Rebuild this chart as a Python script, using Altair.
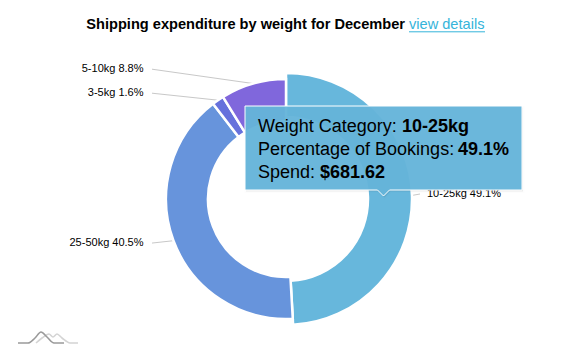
import math
import altair as alt
import pandas as pd

# ---------------- data ----------------
categories = ["10-25kg", "25-50kg", "3-5kg", "5-10kg"]
percentages = [49.1, 40.5, 1.6, 8.8]
colors = ["#67b7dc", "#6794dc", "#6771dc", "#8067dc"]
hover_category = "10-25kg"
hover_spend = 681.62

title_text = "Shipping expenditure by weight for December"
link_text = "view details"

# ---------------- layout (view pixels) ----------------
CX, CY = 278, 191
R_OUT, R_IN = 120, 78
R_OUT_H, R_IN_H = 126, 82
LABEL_R = 130.5
LABEL_GAP = 24
LX_L, LX_R = 135.5, 419
LINE_END_L, LINE_END_R = 144, 412
FONT = "Liberation Sans"

df = pd.DataFrame({"cat": categories, "pct": percentages, "idx": list(range(len(categories)))})

base = (
    alt.Chart(df)
    .transform_window(cum="sum(pct)", sort=[alt.SortField("idx")], frame=[None, 0])
    .transform_joinaggregate(total="sum(pct)")
    .transform_calculate(
        a0="(datum.cum - datum.pct) / datum.total * 2 * PI",
        a1="datum.cum / datum.total * 2 * PI",
        mid="(datum.cum - datum.pct / 2) / datum.total * 2 * PI",
        hov=f"datum.cat == '{hover_category}'",
    )
    .transform_calculate(
        r_out=f"datum.hov ? {R_OUT_H} : {R_OUT}",
        r_in=f"datum.hov ? {R_IN_H} : {R_IN}",
        side="sin(datum.mid) >= 0 ? 'R' : 'L'",
        ny=f"{CY} - {LABEL_R} * cos(datum.mid) - 1.3",
        label="datum.cat + ' ' + format(datum.pct, '.1f') + '%'",
    )
)

arcs = base.mark_arc(stroke="white", strokeWidth=2.5).encode(
    theta=alt.Theta("a0:Q", scale=None, stack=None),
    theta2=alt.Theta2("a1:Q"),
    radius=alt.Radius("r_out:Q", scale=None),
    radius2=alt.Radius2("r_in:Q"),
    x=alt.value(CX),
    y=alt.value(CY),
    color=alt.Color("cat:N", scale=alt.Scale(domain=categories, range=colors), legend=None),
)

labelled = (
    base.transform_window(
        prev="lag(ny)", nxt="lead(ny)", groupby=["side"], sort=[alt.SortField("idx")]
    )
    .transform_calculate(
        ly=(
            f"datum.ny"
            f" + (isValid(datum.prev) && abs(datum.ny - datum.prev) < {LABEL_GAP} ? (datum.ny > datum.prev ? 1 : -1) * ({LABEL_GAP} - abs(datum.ny - datum.prev)) / 2 : 0)"
            f" + (isValid(datum.nxt) && abs(datum.ny - datum.nxt) < {LABEL_GAP} ? (datum.ny > datum.nxt ? 1 : -1) * ({LABEL_GAP} - abs(datum.ny - datum.nxt)) / 2 : 0)"
        )
    )
    .transform_calculate(
        ex=f"{CX} + datum.r_out * sin(datum.mid)",
        ey=f"{CY} - datum.r_out * cos(datum.mid)",
        lx2=f"datum.side == 'R' ? {LINE_END_R} : {LINE_END_L}",
    )
)

leaders = labelled.mark_rule(stroke="#c8c8c8", strokeWidth=1).encode(
    x=alt.X("ex:Q", scale=None, axis=None),
    y=alt.Y("ey:Q", scale=None, axis=None),
    x2="lx2:Q",
    y2="ly:Q",
)

labels_left = labelled.transform_filter("datum.side == 'L'").mark_text(
    align="right", baseline="middle", font=FONT, fontSize=11, color="#000"
).encode(x=alt.value(LX_L), y=alt.Y("ly:Q", scale=None, axis=None), text="label:N")

labels_right = labelled.transform_filter("datum.side == 'R'").mark_text(
    align="left", baseline="middle", font=FONT, fontSize=11, color="#000"
).encode(x=alt.value(LX_R), y=alt.Y("ly:Q", scale=None, axis=None), text="label:N")

# ---------------- title ----------------
title_df = pd.DataFrame({"t": [title_text], "l": [link_text]})
title_bold = alt.Chart(title_df).mark_text(
    align="right", baseline="alphabetic", font=FONT, fontSize=14.6, fontWeight="bold", color="#000"
).encode(x=alt.value(397), y=alt.value(21.3), text="t:N")
title_link = alt.Chart(title_df).mark_text(
    align="left", baseline="alphabetic", font=FONT, fontSize=14.6, color="#35b4da"
).encode(x=alt.value(401), y=alt.value(21.3), text="l:N")
underline = alt.Chart(title_df).mark_rule(stroke="#35b4da", strokeWidth=1).encode(
    x=alt.value(401), x2=alt.value(477), y=alt.value(23.8)
)

# ---------------- tooltip ----------------
hi = percentages[categories.index(hover_category)]
tip_df = pd.DataFrame({
    "reg": ["Weight Category: ", "Percentage of Bookings: ", "Spend: "],
    "bold": [hover_category, f"{hi:.1f}%", f"${hover_spend:,.2f}"],
    "line": [0, 1, 2],
    "bx": [394, 450, 312],
})
tip_path = "M-1.385,-0.42H1.385V0.42H0.06L0,0.48L-0.06,0.42H-1.385Z"
tip_shadow = alt.Chart(tip_df.head(1)).mark_point(
    shape=tip_path, size=40000, filled=True, fill="#000", opacity=0.07,
    stroke="#000", strokeWidth=3, strokeOpacity=0.06
).encode(x=alt.value(376.5), y=alt.value(141.5))
tip_box = alt.Chart(tip_df.head(1)).mark_point(
    shape=tip_path, size=40000, filled=True, fill="#65b4da", opacity=1, fillOpacity=0.96,
    stroke="#ffffff", strokeWidth=1, strokeOpacity=1
).encode(x=alt.value(375.5), y=alt.value(140))
tip_reg = alt.Chart(tip_df).transform_calculate(ty="123.5 + datum.line * 23.3").mark_text(
    align="left", baseline="alphabetic", font=FONT, fontSize=18, color="#000"
).encode(x=alt.value(250), y=alt.Y("ty:Q", scale=None, axis=None), text="reg:N")
tip_bold = alt.Chart(tip_df).transform_calculate(ty="123.5 + datum.line * 23.3").mark_text(
    align="left", baseline="alphabetic", font=FONT, fontSize=18, fontWeight="bold", color="#000"
).encode(x=alt.X("bx:Q", scale=None, axis=None), y=alt.Y("ty:Q", scale=None, axis=None), text="bold:N")

# ---------------- logo ----------------
logo_df = pd.DataFrame({
    "px": [10, 20, 27, 33, 39, 46, 56, 28, 34, 41, 45, 49, 54, 62, 70],
    "py": [335, 335, 330, 324, 329, 335, 335, 335, 330, 326, 329, 326, 330, 335, 335],
    "g": ["a"] * 7 + ["b"] * 8,
    "o": list(range(15)),
})
logo_light = alt.Chart(logo_df).transform_filter("datum.g == 'b'").mark_line(
    color="#d4d4d4", strokeWidth=1.6, interpolate="monotone"
).encode(x=alt.X("px:Q", scale=None, axis=None), y=alt.Y("py:Q", scale=None, axis=None), order="o:Q")
logo_dark = alt.Chart(logo_df).transform_filter("datum.g == 'a'").mark_line(
    color="#9a9a9a", strokeWidth=1.6, interpolate="monotone"
).encode(x=alt.X("px:Q", scale=None, axis=None), y=alt.Y("py:Q", scale=None, axis=None), order="o:Q")

chart = alt.layer(
    leaders, arcs, labels_left, labels_right,
    tip_shadow, tip_box, tip_reg, tip_bold,
    title_bold, title_link, underline,
    logo_light, logo_dark,
).properties(
    width=549, height=348, autosize=alt.AutoSizeParams(type="none"), padding=0
).configure_view(stroke=None)

chart.save("out.html", embed_options={"renderer": "svg", "actions": False})
